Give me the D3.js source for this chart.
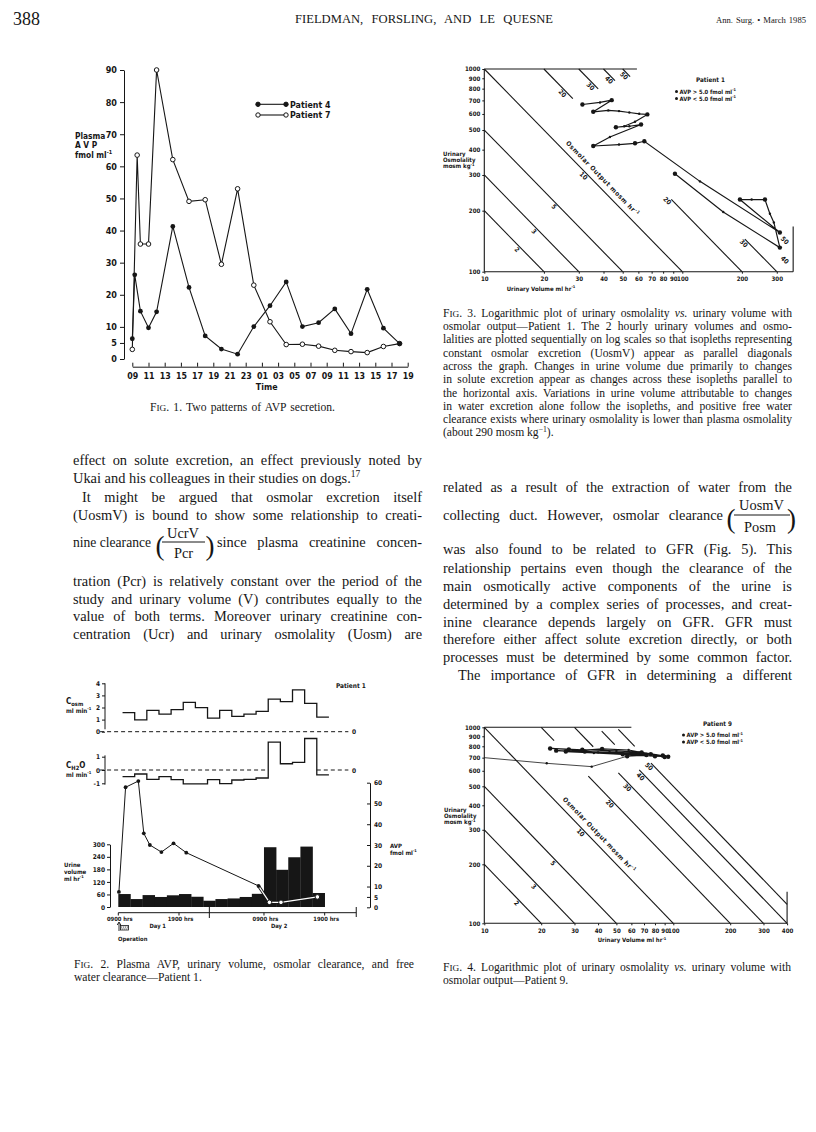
<!DOCTYPE html>
<html><head><meta charset="utf-8">
<script src="https://cdn.jsdelivr.net/npm/d3@7/dist/d3.min.js"></script>
<style>
html,body{margin:0;padding:0;background:#fff;}
svg{display:block;}
</style></head>
<body>
<svg id="page" width="816" height="1132" xmlns="http://www.w3.org/2000/svg"></svg>
<script>
// ================= DATA =================
// Fig. 1 - plasma AVP (fmol/ml) against clock time (hours from 00:00 of day 1)
const fig1TimeTicks  = [9,11,13,15,17,19,21,23,25,27,29,31,33,35,37,39,41,43];
const fig1TimeLabels = ["09","11","13","15","17","19","21","23","01","03","05","07","09","11","13","15","17","19"];
const fig1AvpTicks   = [0,5,10,20,30,40,50,60,70,80,90];
const patient4Hours  = [9,9.3,10,11,12,14,16,18,20,22,24,26,28,30,32,34,36,38,40,42];
const patient4Avp    = [6.3,26.2,14.9,9.7,14.7,41.3,22.3,7.2,3.1,1.5,10.1,16.6,24.0,10.1,11.3,15.6,7.9,21.7,9.6,4.8];
const patient7Hours  = [9,9.6,10,11,12,14,16,18,20,22,24,26,28,30,32,34,36,38,40,42];
const patient7Avp    = [3.0,63.5,35.8,35.8,90,62.1,49.1,49.6,29.5,53,23,11.6,4.5,4.6,4.0,2.7,2.3,2.0,3.9,4.8];

// Fig. 2 - patient 1 (hours after 0900 on day 1)
const fig2BarStart    = [0,2,4,6,8,10,12,14,16,18,20,22,24,26,28,30,32];
const fig2UrineVolume = [62,38,57,48,56,62,49,30,38,41,48,63,286,178,238,289,67];
const fig2ClearStart  = [0.7,2.7,4.7,6.7,8.7,10.7,12.7,14.7,16.7,18.7,20.7,22.7,24.7,26.7,28.7,30.7,32.7];
const fig2Cosm        = [1.57,0.97,1.77,1.46,1.82,2.43,1.99,1.13,1.77,1.27,1.46,1.68,2.70,2.48,3.45,2.34,1.21];
const fig2CH2O        = [-0.5,-0.3,-0.7,-0.5,-0.72,-1.05,-1.05,-0.72,-1.03,-0.75,-0.7,-0.6,2.1,0.47,0.58,2.37,-0.37];
const fig2AvpHours    = [0.1,1.2,3.3,4.2,5.2,7.1,9.1,11.2,23.1];
const fig2Avp         = [7.4,57.8,60.8,35.6,30.0,26.6,30.8,26.3,10.3];
const fig2AvpLowHours = [23.1,24.9,26.8,32.8];
const fig2AvpLow      = [10.3,2.4,2.4,5.0];
const fig2CosmTicks   = [0,1,2,3,4];
const fig2CH2OTicks   = [-1,0,1];
const fig2VolumeTicks = [0,60,120,180,240,300];
const fig2AvpTicks    = [0,5,10,20,30,40,50,60];
const fig2TimeTickHours  = [0,10,24,34];
const fig2TimeTickLabels = ["0900 hrs","1900 hrs","0900 hrs","1900 hrs"];
const fig2DayLabels   = ["Day 1","Day 2"];
const fig2DayHours    = [6.5,26.5];

// Fig. 3 - patient 1, sequential 2-hourly urinary volume (ml/hr) and osmolality (mosm/kg)
const fig3Volume     = [31.3,38.4,44.0,35.5,42.3,47.9,54.0,60.6,66.6,57.7,50.9,46.2,54.0,61.9,43.1,35.5,47.9,57.7,64.3,122.8,311,195.5,224,261.5,277,290,311,161,91.8];
const fig3Osmolality = [668,684,702,615,625,620,610,601,597,549,522,516,522,532,462,417,424,430,440,279,156,227,227,227,193,175,131.5,197,304];
const fig3Marker     = ["b","s","b","b","s","s","s","s","b","s","s","b","s","b","s","b","s","b","b","s","b","b","s","b","s","s","b","s","b"];
const fig3VolumeTicks = [10,20,30,40,50,60,70,80,90,100,200,300];
const osmTicks        = [100,200,300,400,500,600,700,800,900,1000];
// isopleths: [osmolar output mosm/hr, from volume, to volume]
const fig3Isopleths = [[2,10,20],[3,10,30],[5,10,50],[10,10,100],[20,20,28],[20,88,200],[30,30,37.6],[30,207,300],[40,40,45.7],[50,50,54.5]];
const fig3IsoLabels = [[2,15.1],[3,18.4],[5,23.2],[10,32.7],[20,25.6],[30,35.5],[40,44],[50,52.4],[20,86.7],[30,211],[50,340],[40,340]];

// Fig. 4 - patient 9
const fig4Volume     = [10,21.4,37,57,72,24,34,46,62,88,66,40,28,22.3,33,50,68,94,80,54,38,27,42,58,76,90];
const fig4Osmolality = [700,655,630,712,722,760,752,748,738,718,735,745,772,780,768,758,744,708,712,728,740,752,776,766,730,705];
const fig4Marker     = ["n","s","s","b","b","b","b","s","b","b","b","s","b","b","b","s","b","b","b","b","s","b","b","s","b","b"];
const fig4VolumeTicks = [10,20,30,40,50,60,70,80,90,100,200,300,400];
const fig4Isopleths = [[2,10,20],[3,10,30],[5,10,50],[10,10,100],[20,20,23.4],[20,35.5,200],[30,30,37.7],[30,51.2,300],[40,41.8,49],[40,66,400],[50,51.2,62.5],[50,76.2,400]];
const fig4IsoLabels = [[2,15.3],[3,18.9],[5,23.9],[10,33.4],[20,47.7],[30,59],[40,69.3],[50,76.9]];

// ================= TEXT =================
const leftText = [
  {y:465, s:["effect on solute excretion, an effect previously noted by"], w:349},
  {y:483, s:["Ukai and his colleagues in their studies on dogs.",{t:"17",sup:true}]},
  {y:502, x:82, s:["It might be argued that osmolar excretion itself"], w:340},
  {y:520, s:["(UosmV) is bound to show some relationship to creati-"], w:349},
  {y:586, s:["tration (Pcr) is relatively constant over the period of the"], w:349},
  {y:604, s:["study and urinary volume (V) contributes equally to the"], w:349},
  {y:621, s:["value of both terms. Moreover urinary creatinine con-"], w:349},
  {y:639, s:["centration (Ucr) and urinary osmolality (Uosm) are"], w:349}
];
const rightText = [
  {y:492, s:["related as a result of the extraction of water from the"], w:349},
  {y:554, s:["was also found to be related to GFR (Fig. 5). This"], w:349},
  {y:572.5, s:["relationship pertains even though the clearance of the"], w:349},
  {y:590.5, s:["main osmotically active components of the urine is"], w:349},
  {y:609, s:["determined by a complex series of processes, and creat-"], w:349},
  {y:626.5, s:["inine clearance depends largely on GFR. GFR must"], w:349},
  {y:644, s:["therefore either affect solute excretion directly, or both"], w:349},
  {y:661.5, s:["processes must be determined by some common factor."], w:349},
  {y:680, x:458, s:["The importance of GFR in determining a different"], w:334}
];
const fig3Caption = [
  [{t:"F"},{t:"IG",sc:true},". 3. Logarithmic plot of urinary osmolality ",{t:"vs.",i:true}," urinary volume with"],
  ["osmolar output\u2014Patient 1. The 2 hourly urinary volumes and osmo-"],
  ["lalities are plotted sequentially on log scales so that isopleths representing"],
  ["constant osmolar excretion (UosmV) appear as parallel diagonals"],
  ["across the graph. Changes in urine volume due primarily to changes"],
  ["in solute excretion appear as changes across these isopleths parallel to"],
  ["the horizontal axis. Variations in urine volume attributable to changes"],
  ["in water excretion alone follow the isopleths, and positive free water"],
  ["clearance exists where urinary osmolality is lower than plasma osmolality"],
  ["(about 290 mosm kg",{t:"\u2212",sup:true},{t:"1",sup:true},")."]
];

// ================= HELPERS =================
const SERIF = '"Liberation Serif","Times New Roman",serif';
const SANS  = '"DejaVu Sans Condensed","Liberation Sans Narrow","Liberation Sans",Arial,sans-serif';
const INK = "#161616";
const BODY = 14.4, CAP = 11.6;
const svg = d3.select("#page");
svg.append("rect").attr("width",816).attr("height",1132).attr("fill","#fff");

function rich(parent, x, y, segs, o = {}) {
  const fs = o.fs || BODY;
  const t = parent.append("text").attr("x", x).attr("y", y)
    .attr("font-family", o.ff || SERIF).attr("font-size", fs)
    .attr("font-weight", o.fw || "normal").attr("fill", INK)
    .attr("text-anchor", o.anchor || "start");
  if (o.transform) t.attr("transform", o.transform);
  let shift = 0;
  (Array.isArray(segs) ? segs : [segs]).forEach(s => {
    if (typeof s === "string") s = {t: s};
    const sp = t.append("tspan").text(s.t);
    let target = 0, size = fs;
    if (s.sup) { target = -fs * 0.4; size = fs * 0.66; }
    if (s.sub) { target = fs * 0.3; size = fs * 0.72; }
    if (s.sc) size = fs * 0.8;
    if (s.i) sp.attr("font-style", "italic");
    if (size !== fs) sp.attr("font-size", size);
    if (target !== shift) { sp.attr("dy", target - shift); shift = target; }
  });
  if (o.w) {
    const n = t.node();
    const w = n.getComputedTextLength();
    const spaces = (n.textContent.match(/ /g) || []).length;
    const ws = spaces ? (o.w - w) / spaces : -99;
    if (ws < -1.6 || ws > 12) t.attr("textLength", o.w).attr("lengthAdjust", "spacingAndGlyphs");
    else t.attr("word-spacing", ws.toFixed(2));
  }
  return t;
}
function styleAxis(sel, fs) {
  sel.selectAll("text").attr("font-family", SANS).attr("font-weight", "bold")
     .attr("font-size", fs).attr("fill", INK);
  sel.selectAll("line,path").attr("stroke", INK).attr("stroke-width", 1);
}
const lab = (p, x, y, s, fs, anchor) => rich(p, x, y, s, {ff: SANS, fw: "bold", fs: fs, anchor: anchor || "start"});

// ================= HEADER =================
rich(svg, 13, 25, "388", {fs: 19.5, w: 27});
rich(svg, 424, 23, "FIELDMAN, FORSLING, AND LE QUESNE", {fs: 12.6, anchor: "middle", w: 258});
rich(svg, 716, 22.5, "Ann. Surg. \u2022 March 1985", {fs: 8.6, w: 90});

// ================= FIG 1 =================
(function () {
  const g = svg.append("g");
  const x = d3.scaleLinear().domain([9, 43]).range([132.3, 407.7]);
  const y = d3.scaleLinear().domain([0, 90]).range([359, 70]);
  const ya = g.append("g").attr("transform", "translate(124,0)")
    .call(d3.axisLeft(y).tickValues(fig1AvpTicks).tickFormat(d3.format("d")).tickSize(4).tickPadding(3).tickSizeOuter(0));
  styleAxis(ya, 9);
  const xa = g.append("g").attr("transform", "translate(0,366.7)")
    .call(d3.axisBottom(x).tickValues(fig1TimeTicks).tickFormat((d, i) => fig1TimeLabels[i])
      .tickSizeInner(-4).tickSizeOuter(0).tickPadding(6.5));
  styleAxis(xa, 8.8);
  lab(g, 266.7, 389.5, "Time", 8.8, "middle");
  lab(g, 75, 138.5, "Plasma", 8.3);
  lab(g, 75, 148, "A V P", 8.3);
  lab(g, 75, 157.5, ["fmol ml",{t:"-1",sup:true}], 8.3);

  const line = d3.line().x(d => x(d[0])).y(d => y(d[1]));
  const p4 = patient4Hours.map((h, i) => [h, patient4Avp[i]]);
  const p7 = patient7Hours.map((h, i) => [h, patient7Avp[i]]);
  g.append("path").attr("d", line(p7)).attr("fill", "none").attr("stroke", INK).attr("stroke-width", 1.1);
  g.append("path").attr("d", line(p4)).attr("fill", "none").attr("stroke", INK).attr("stroke-width", 1.1);
  g.selectAll(".p7").data(p7).join("circle").attr("cx", d => x(d[0])).attr("cy", d => y(d[1]))
    .attr("r", 2.3).attr("fill", "#fff").attr("stroke", INK).attr("stroke-width", 1);
  g.selectAll(".p4").data(p4).join("circle").attr("cx", d => x(d[0])).attr("cy", d => y(d[1]))
    .attr("r", 2.4).attr("fill", INK);

  // legend
  [["Patient  4", true, 104.3], ["Patient  7", false, 115]].forEach(([t, filled, ly]) => {
    g.append("line").attr("x1", 258).attr("x2", 286).attr("y1", ly).attr("y2", ly).attr("stroke", INK).attr("stroke-width", 1.1);
    [258, 286].forEach(cx => g.append("circle").attr("cx", cx).attr("cy", ly).attr("r", 2.2)
      .attr("fill", filled ? INK : "#fff").attr("stroke", INK).attr("stroke-width", 1));
    lab(g, 290, ly + 3.3, t, 8.8);
  });
  rich(svg, 150, 411, [{t:"F"},{t:"IG",sc:true},". 1. Two patterns of AVP secretion."], {fs: CAP, w: 185});
})();

// ================= BODY TEXT =================
leftText.forEach(l => rich(svg, l.x || 73, l.y, l.s, {w: l.w}));
rightText.forEach(l => rich(svg, l.x || 443, l.y, l.s, {w: l.w}));
// fraction line left
rich(svg, 73, 547, "nine clearance", {w: 78});
rich(svg, 155.5, 554.5, "(", {fs: 27});
rich(svg, 183, 538, "UcrV", {anchor: "middle"});
svg.append("line").attr("x1", 162).attr("x2", 205).attr("y1", 542).attr("y2", 542).attr("stroke", INK).attr("stroke-width", 1);
rich(svg, 183.5, 558, "Pcr", {anchor: "middle"});
rich(svg, 205.5, 554.5, ")", {fs: 27});
rich(svg, 217, 547, "since plasma creatinine concen-", {w: 205});
// fraction line right
rich(svg, 443, 520, "collecting duct. However, osmolar clearance", {w: 280});
rich(svg, 726.5, 527.5, "(", {fs: 27});
rich(svg, 761.5, 509.5, "UosmV", {anchor: "middle"});
svg.append("line").attr("x1", 734).attr("x2", 790).attr("y1", 515).attr("y2", 515).attr("stroke", INK).attr("stroke-width", 1);
rich(svg, 760, 531.5, "Posm", {anchor: "middle"});
rich(svg, 787, 527.5, ")", {fs: 27});

// Fig 3 caption
fig3Caption.forEach((s, i) => rich(svg, 443, 316.7 + i * 13.3, s, {fs: CAP, w: i < 9 ? 349 : null}));

// ================= FIG 2 =================
(function () {
  const g = svg.append("g");
  const x = d3.scaleLinear().domain([0, 10]).range([118.3, 179]);
  const yC = d3.scaleLinear().domain([0, 4]).range([731.7, 683.3]);
  const yW = d3.scaleLinear().domain([-1, 1]).range([783.3, 756.7]);
  const yV = d3.scaleLinear().domain([0, 300]).range([907, 844.3]);
  const yA = d3.scaleLinear().domain([0, 60]).range([907.3, 782.7]);

  // urine volume bars
  g.selectAll(".bar").data(fig2UrineVolume).join("rect")
    .attr("x", (d, i) => x(fig2BarStart[i])).attr("width", (d, i) => x(fig2BarStart[i] + 2) - x(fig2BarStart[i]) + 0.3)
    .attr("y", d => yV(d)).attr("height", d => yV(0) - yV(d)).attr("fill", INK);

  // step lines
  const step = d3.line().curve(d3.curveStepAfter).x(d => x(d[0]));
  const last = fig2ClearStart[fig2ClearStart.length - 1] + 2;
  const cosmPts = fig2ClearStart.map((h, i) => [h, fig2Cosm[i]]).concat([[last, fig2Cosm[fig2Cosm.length - 1]]]);
  const ch2oPts = fig2ClearStart.map((h, i) => [h, fig2CH2O[i]]).concat([[last, fig2CH2O[fig2CH2O.length - 1]]]);
  g.append("path").attr("d", step.y(d => yC(d[1]))(cosmPts)).attr("fill", "none").attr("stroke", INK).attr("stroke-width", 1.3);
  g.append("path").attr("d", step.y(d => yW(d[1]))(ch2oPts)).attr("fill", "none").attr("stroke", INK).attr("stroke-width", 1.3);

  // dashed zero lines
  const dash = (h0, h1, yy) => g.append("line").attr("x1", x(h0)).attr("x2", x(h1)).attr("y1", yy).attr("y2", yy)
    .attr("stroke", INK).attr("stroke-width", 1).attr("stroke-dasharray", "4,3");
  dash(-3, 37.9, yC(0));
  dash(-3, 24.7, yW(0));
  dash(32.7, 37.9, yW(0));
  lab(g, x(38.5), yC(0) + 2.5, "0", 6.5);
  lab(g, x(38.5), yW(0) + 2.5, "0", 6.5);

  // axes
  const aC = g.append("g").attr("transform", "translate(105,0)")
    .call(d3.axisLeft(yC).tickValues(fig2CosmTicks).tickFormat(d3.format("d")).tickSize(3).tickPadding(2).tickSizeOuter(0));
  styleAxis(aC, 6.5);
  aC.select(".domain").attr("d", `M0,${yC(4)}V${yC(0.2)}`);
  const aW = g.append("g").attr("transform", "translate(105,0)")
    .call(d3.axisLeft(yW).tickValues(fig2CH2OTicks).tickFormat(d => d < 0 ? "-1" : String(d)).tickSize(3).tickPadding(2).tickSizeOuter(0));
  styleAxis(aW, 6.5);
  aW.select(".domain").attr("d", `M0,${yW(1.1)}V${yW(-1.1)}`);
  const aV = g.append("g").attr("transform", "translate(110,0)")
    .call(d3.axisLeft(yV).tickValues(fig2VolumeTicks).tickFormat(d3.format("d")).tickSize(3).tickPadding(2).tickSizeOuter(0));
  styleAxis(aV, 6.5);
  const aA = g.append("g").attr("transform", "translate(370,0)")
    .call(d3.axisRight(yA).tickValues(fig2AvpTicks).tickFormat(d3.format("d")).tickSizeInner(-3).tickSizeOuter(0).tickPadding(4));
  styleAxis(aA, 6.5);

  // AVP line
  const ln = d3.line().x(d => x(d[0])).y(d => yA(d[1]));
  const hi = fig2AvpHours.map((h, i) => [h, fig2Avp[i]]);
  const lo = fig2AvpLowHours.map((h, i) => [h, fig2AvpLow[i]]);
  g.append("path").attr("d", ln(hi)).attr("fill", "none").attr("stroke", INK).attr("stroke-width", 1);
  g.append("path").attr("d", ln(lo)).attr("fill", "none").attr("stroke", INK).attr("stroke-width", 3);
  g.append("path").attr("d", ln(lo)).attr("fill", "none").attr("stroke", "#fff").attr("stroke-width", 1.2);
  g.selectAll(".ah").data(hi).join("circle").attr("cx", d => x(d[0])).attr("cy", d => yA(d[1])).attr("r", 1.9).attr("fill", INK);
  g.selectAll(".al").data(lo.slice(1)).join("circle").attr("cx", d => x(d[0])).attr("cy", d => yA(d[1]))
    .attr("r", 2.3).attr("fill", "#fff").attr("stroke", INK).attr("stroke-width", 1);

  // time axis
  const ax = g.append("g");
  ax.append("line").attr("x1", x(0)).attr("x2", x(39.2)).attr("y1", 912.7).attr("y2", 912.7).attr("stroke", INK).attr("stroke-width", 1);
  fig2TimeTickHours.forEach((h, i) => {
    ax.append("line").attr("x1", x(h)).attr("x2", x(h)).attr("y1", 912.7).attr("y2", 915.5).attr("stroke", INK);
    lab(ax, x(h) + 1.5, 920.5, fig2TimeTickLabels[i], 5.8, "middle");
  });
  ax.append("line").attr("x1", x(15)).attr("x2", x(15)).attr("y1", 905).attr("y2", 918).attr("stroke", INK);
  ax.append("line").attr("x1", x(39.2)).attr("x2", x(39.2)).attr("y1", 907).attr("y2", 917).attr("stroke", INK);
  fig2DayLabels.forEach((d, i) => lab(ax, x(fig2DayHours[i]), 927.5, d, 5.8, "middle"));
  // operation marker
  ax.append("path").attr("d", "M119,931V922.5M117.2,925L119,922L120.8,925").attr("fill", "none").attr("stroke", INK).attr("stroke-width", 0.9);
  ax.append("rect").attr("x", 120.5).attr("y", 925.5).attr("width", 8).attr("height", 4.5).attr("fill", "none").attr("stroke", INK).attr("stroke-width", 0.8);
  [122, 124, 126, 128].forEach(hx => ax.append("line").attr("x1", hx).attr("x2", hx - 1.5).attr("y1", 926).attr("y2", 929.5).attr("stroke", INK).attr("stroke-width", 0.5));
  lab(ax, 118, 941, "Operation", 5.8);

  // labels
  lab(g, 336, 688, "Patient  1", 6.5);
  lab(g, 66, 704, ["C",{t:"osm",sub:true}], 8);
  lab(g, 66, 712.5, ["ml min",{t:"-1",sup:true}], 6.2);
  lab(g, 66, 768, ["C",{t:"H",sub:true},{t:"2",sub:true},"O"], 8);
  lab(g, 66, 776.5, ["ml min",{t:"-1",sup:true}], 6.2);
  lab(g, 64, 867, "Urine", 6);
  lab(g, 64, 873.7, "volume", 6);
  lab(g, 64, 880.7, ["ml hr",{t:"-1",sup:true}], 6);
  lab(g, 390, 847.5, "AVP", 6);
  lab(g, 390, 854.5, ["fmol ml",{t:"-1",sup:true}], 6);

  rich(svg, 74, 968, [{t:"F"},{t:"IG",sc:true},". 2. Plasma AVP, urinary volume, osmolar clearance, and free"], {fs: CAP, w: 340});
  rich(svg, 74, 981.3, "water clearance\u2014Patient 1.", {fs: CAP});
})();

// ================= FIG 3 & 4 (log-log) =================
function logChart(c) {
  const g = svg.append("g");
  const x = d3.scaleLog().domain([10, 100]).range(c.xr);
  const y = d3.scaleLog().domain([100, 1000]).range(c.yr);
  const L = (x1, y1, x2, y2, sw) => g.append("line").attr("x1", x1).attr("y1", y1).attr("x2", x2).attr("y2", y2)
    .attr("stroke", INK).attr("stroke-width", sw || 1.1);
  L(x(10), y(100), x(10), y(1000));
  L(x(10), y(100), x(c.vMax), y(100));
  L(x(10), y(1000), x(c.topTo), y(1000));
  L(x(c.vMax), y(100), x(c.vMax), y(c.rightTop));

  const ya = g.append("g").attr("transform", `translate(${x(10)},0)`)
    .call(d3.axisLeft(y).tickValues(osmTicks).tickFormat(d3.format("d")).tickSize(2).tickPadding(2));
  ya.select(".domain").remove();
  styleAxis(ya, 6.1);
  const xa = g.append("g").attr("transform", `translate(0,${y(100)})`)
    .call(d3.axisBottom(x).tickValues(c.volTicks).tickFormat(d3.format("d")).tickSize(2).tickPadding(3));
  xa.select(".domain").remove();
  styleAxis(xa, 6.1);

  const ang = Math.atan2(y(100) - y(1000), x(100) - x(10)) * 180 / Math.PI;
  c.iso.forEach(([k, v0, v1]) => L(x(v0), y(1000 * k / v0), x(v1), y(1000 * k / v1), 1.1));
  c.isoLabels.forEach(([k, v]) => {
    const px = x(v), py = y(1000 * k / v);
    rich(g, 0, 6, String(k), {ff: SANS, fw: "bold", fs: 6.5, anchor: "middle",
      transform: `translate(${px.toFixed(1)},${py.toFixed(1)}) rotate(${ang.toFixed(1)})`});
  });
  const ov = c.outputLabelV;
  rich(g, 0, -6, ["Osmolar  Output  mosm  hr",{t:"-1",sup:true}], {ff: SANS, fw: "bold", fs: 6.5, anchor: "middle",
    transform: `translate(${x(ov).toFixed(1)},${y(10000 / ov).toFixed(1)}) rotate(${ang.toFixed(1)})`}).attr("letter-spacing", 0.6);

  // data
  const pts = c.vol.map((v, i) => [v, c.osm[i], c.mark[i]]);
  const ln = d3.line().x(d => x(d[0])).y(d => y(d[1]));
  if (c.thinCount) g.append("path").attr("d", ln(pts.slice(0, c.thinCount))).attr("fill", "none").attr("stroke", INK).attr("stroke-width", 0.8);
  g.append("path").attr("d", ln(pts.slice(Math.max((c.thinCount || 0) - 1, 0)))).attr("fill", "none").attr("stroke", INK).attr("stroke-width", 1.2);
  g.selectAll(".pt").data(pts.filter(d => d[2] !== "n")).join("circle")
    .attr("cx", d => x(d[0])).attr("cy", d => y(d[1])).attr("r", d => d[2] === "b" ? 2.2 : 1.2).attr("fill", INK);

  // titles
  lab(g, c.xTitle[0], c.xTitle[1], ["Urinary Volume ml hr",{t:"-1",sup:true}], 6, "middle");
  lab(g, c.yTitle[0], c.yTitle[1], "Urinary", 6);
  lab(g, c.yTitle[0], c.yTitle[1] + 6.2, "Osmolality", 6);
  lab(g, c.yTitle[0], c.yTitle[1] + 12.4, ["mosm kg",{t:"-1",sup:true}], 6);
  // legend
  lab(g, c.leg[0] + 21, c.leg[1] - 9.5, c.patient, 6.3);
  [["AVP > 5.0 fmol ml", 0], ["AVP < 5.0 fmol ml", 7]].forEach(([t, dy]) => {
    g.append("circle").attr("cx", c.leg[0] + 1.5).attr("cy", c.leg[1] + dy).attr("r", 1.5).attr("fill", INK);
    lab(g, c.leg[0] + 4.5, c.leg[1] + dy + 2.2, [t, {t:"-1", sup:true}], 5.8);
  });
  return g;
}

logChart({
  xr: [484.3, 682.3], yr: [271.7, 69], vMax: 363, topTo: 59, rightTop: 167,
  volTicks: fig3VolumeTicks, iso: fig3Isopleths, isoLabels: fig3IsoLabels, outputLabelV: 37,
  vol: fig3Volume, osm: fig3Osmolality, mark: fig3Marker, thinCount: 0,
  xTitle: [541, 290.5], yTitle: [443, 156], leg: [675, 91.5], patient: "Patient  1"
});
logChart({
  xr: [484.3, 673.3], yr: [923.3, 727.3], vMax: 400, topTo: 60, rightTop: 145,
  volTicks: fig4VolumeTicks, iso: fig4Isopleths, isoLabels: fig4IsoLabels, outputLabelV: 37.8,
  vol: fig4Volume, osm: fig4Osmolality, mark: fig4Marker, thinCount: 4,
  xTitle: [632, 942], yTitle: [444, 812], leg: [682, 735], patient: "Patient  9"
});

rich(svg, 443, 971, [{t:"F"},{t:"IG",sc:true},". 4. Logarithmic plot of urinary osmolality ",{t:"vs.",i:true}," urinary volume with"], {fs: CAP, w: 348});
rich(svg, 443, 984.3, "osmolar output\u2014Patient 9.", {fs: CAP});
</script>
</body></html>
